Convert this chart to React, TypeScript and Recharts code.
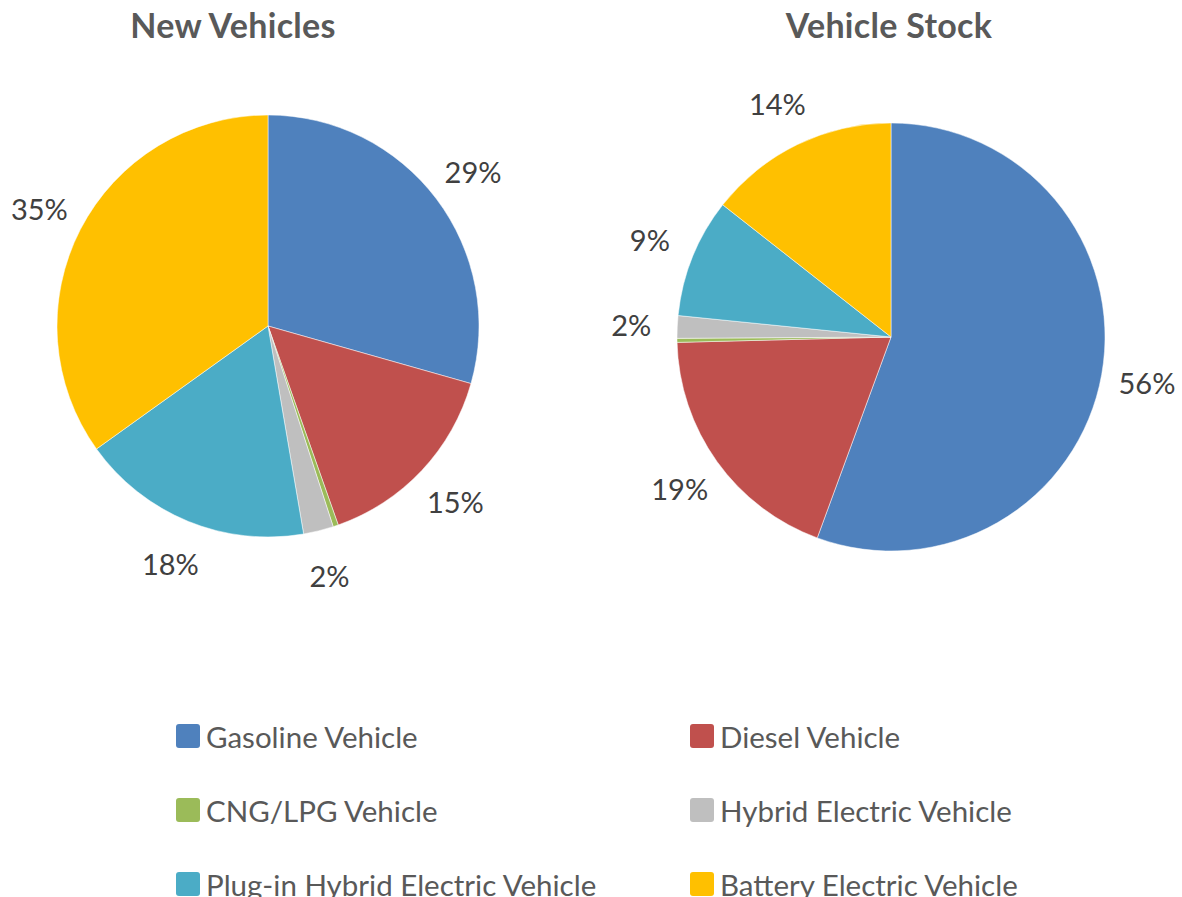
import React from "react";
import { PieChart, Pie, Cell } from "recharts";

const categories = [
  "Gasoline Vehicle",
  "Diesel Vehicle",
  "CNG/LPG Vehicle",
  "Hybrid Electric Vehicle",
  "Plug-in Hybrid Electric Vehicle",
  "Battery Electric Vehicle",
];
const colors = ["#4F81BD", "#C0504D", "#9BBB59", "#BFBFBF", "#4BACC6", "#FFC000"];

const newVehicles = [29.4, 15.2, 0.4, 2.3, 17.8, 34.9];
const vehicleStock = [55.6, 19.0, 0.3, 1.7, 9.0, 14.4];

const titles = ["New Vehicles", "Vehicle Stock"];

const FONT = "Lato, 'Noto Sans', sans-serif";
const RADIAN = Math.PI / 180;

const toRows = (vals: number[]) => categories.map((name, i) => ({ name, value: vals[i] }));

const renderLabel = (props: any) => {
  const { cx, cy, midAngle, outerRadius, percent } = props;
  const pct = Math.round(percent * 100);
  if (pct < 1) return null;
  const r = outerRadius + 46;
  const x = cx + r * Math.cos(-midAngle * RADIAN);
  const y = cy + r * Math.sin(-midAngle * RADIAN);
  return (
    <text
      x={x}
      y={y}
      fill="#404040"
      fontSize={29}
      fontFamily={FONT}
      textAnchor="middle"
      dominantBaseline="central"
    >
      {pct}%
    </text>
  );
};

export default function App() {
  const left = toRows(newVehicles);
  const right = toRows(vehicleStock);
  const titleStyle: React.CSSProperties = {
    position: "absolute",
    width: 320,
    top: 4,
    textAlign: "center",
    fontSize: 34,
    fontWeight: 700,
    color: "#595959",
    letterSpacing: 0.3,
  };
  return (
    <div
      style={{
        position: "absolute",
        left: 0,
        top: 0,
        width: 1182,
        height: 897,
        overflow: "hidden",
        background: "#fff",
        fontFamily: FONT,
      }}
    >
      <div style={{ ...titleStyle, left: 73 }}>{titles[0]}</div>
      <div style={{ ...titleStyle, left: 729 }}>{titles[1]}</div>
      <div style={{ position: "absolute", left: 0, top: 0 }}>
        <PieChart width={1182} height={640} margin={{ top: 0, right: 0, bottom: 0, left: 0 }}>
          <Pie
            data={left}
            dataKey="value"
            cx={268}
            cy={326}
            outerRadius={211}
            startAngle={90}
            endAngle={-270}
            stroke="#ffffff"
            strokeWidth={0.5}
            label={renderLabel}
            labelLine={false}
            isAnimationActive={false}
          >
            {left.map((d, i) => (
              <Cell key={`l-${i}`} fill={colors[i]} />
            ))}
          </Pie>
          <Pie
            data={right}
            dataKey="value"
            cx={891}
            cy={337}
            outerRadius={214}
            startAngle={90}
            endAngle={-270}
            stroke="#ffffff"
            strokeWidth={0.5}
            label={renderLabel}
            labelLine={false}
            isAnimationActive={false}
          >
            {right.map((d, i) => (
              <Cell key={`r-${i}`} fill={colors[i]} />
            ))}
          </Pie>
        </PieChart>
      </div>
      {categories.map((name, i) => {
        const col = i % 2;
        const row = Math.floor(i / 2);
        const x = col === 0 ? 176 : 690;
        const y = 736 + row * 74;
        return (
          <div key={name} style={{ position: "absolute", left: x, top: y - 18, height: 36, display: "flex", alignItems: "center" }}>
            <div style={{ width: 24, height: 24, background: colors[i], borderRadius: 3, marginRight: 6 }} />
            <span style={{ fontSize: 29.5, color: "#595959", whiteSpace: "nowrap" }}>{name}</span>
          </div>
        );
      })}
    </div>
  );
}
